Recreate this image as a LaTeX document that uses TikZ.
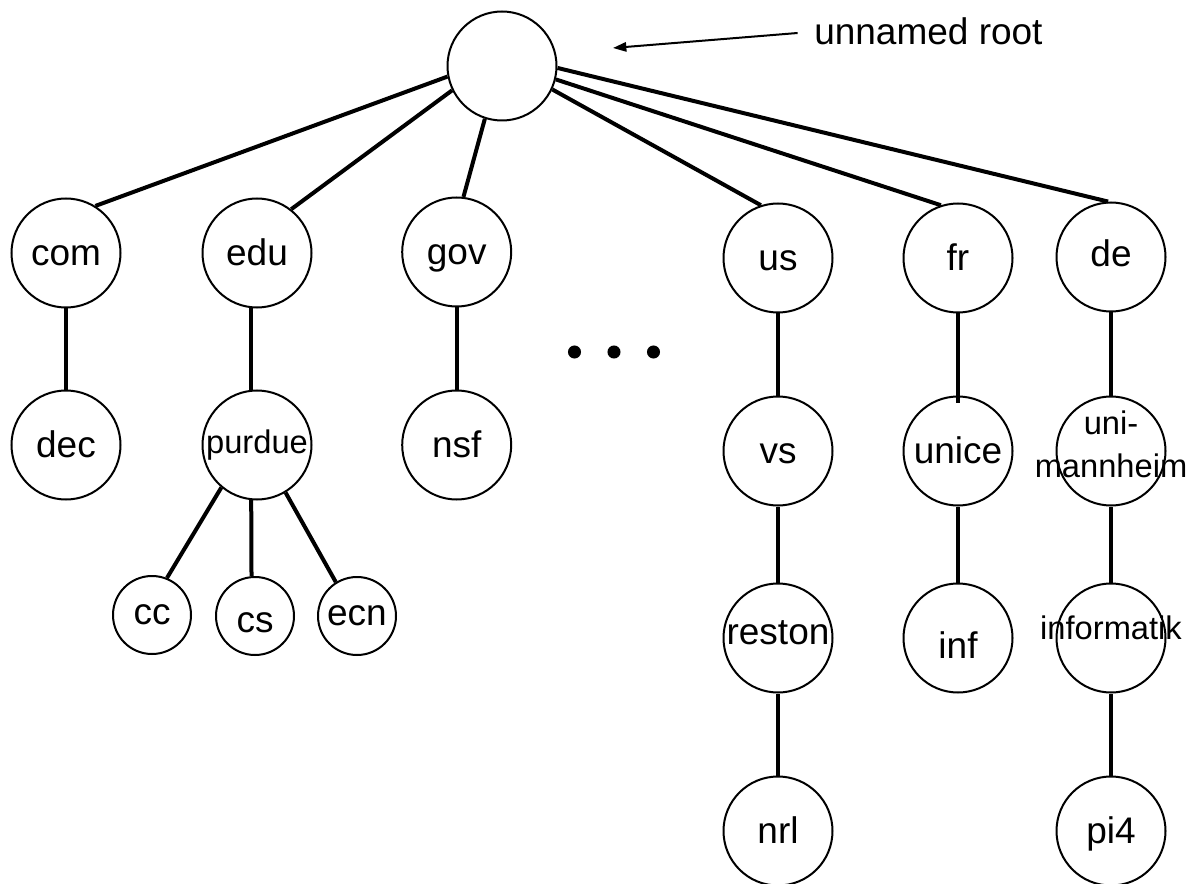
\documentclass[tikz,border=0pt]{standalone}
\usepackage{fontspec}
\setmainfont{Liberation Sans}
\usetikzlibrary{arrows.meta,calc}
\newcommand\tx[2][0pt]{\raisebox{#1}{\makebox[0pt]{#2}}}
\begin{document}
\begin{tikzpicture}[x=0.75pt,y=-0.75pt,
  dn/.style={draw,circle,line width=1.5pt,minimum size=81.75pt,inner sep=0pt,
    font=\fontsize{27.75pt}{33pt}\selectfont,text height=18.9pt,text depth=0pt},
  sm/.style={dn,minimum size=58.5pt},
  smallfont/.style={font=\fontsize{24.5pt}{32.25pt}\selectfont,text height=17.2pt},
  edge/.style={line width=3pt},
  lbl/.style={inner sep=0pt,font=\fontsize{27.75pt}{33pt}\selectfont}]
\useasboundingbox (0,0) rectangle (1196,884);

% nodes
\node[dn] (root) at (502,66) {};
\node[dn] (com) at (66,253) {\tx{com}};
\node[dn] (edu) at (257,253) {\tx{edu}};
\node[dn] (gov) at (456.7,252) {\tx{gov}};
\node[dn] (us) at (778,258) {\tx{us}};
\node[dn] (fr) at (958,258) {\tx{fr}};
\node[dn] (de) at (1111,257) {\tx[2.25pt]{de}};
\node[dn] (dec) at (66,445) {\tx{dec}};
\node[dn,smallfont] (purdue) at (257,445) {\tx[1.9pt]{purdue}};
\node[dn] (nsf) at (456.7,445) {\tx{nsf}};
\node[sm] (cc) at (152,615) {\tx[2.25pt]{cc}};
\node[sm] (cs) at (255,616) {\tx[-3pt]{cs}};
\node[sm] (ecn) at (357,616) {\tx[2.25pt]{ecn}};
\node[dn] (vs) at (778,451) {\tx{vs}};
\node[dn] (unice) at (958,451) {\tx{unice}};
\node[dn,smallfont] (mann) at (1111,451) {\tx[-11.6pt]{\begin{tabular}[b]{@{}c@{}}uni-\\mannheim\end{tabular}}};
\node[dn] (reston) at (778,638) {\tx[4.5pt]{reston}};
\node[dn] (inf) at (958,638) {\tx[-6pt]{inf}};
\node[dn,smallfont] (informatik) at (1111,638) {\tx[7.5pt]{informatik}};
\node[dn] (nrl) at (778,831) {\tx{nrl}};
\node[dn] (pi4) at (1111,831) {\tx{pi4}};

% label and arrow
\node[lbl,anchor=base west] (rootlbl) at (814,45) {unnamed root};
\coordinate (arrs) at (797.6,33);
\coordinate (arrt) at (613,48);
\draw[line width=1.5pt,-{Triangle[length=10pt,width=7pt]}] (arrs) -- (arrt);

% edges from root
\draw[edge] (root.191.5) -- (com.58);
\draw[edge] (root.206) -- (edu.52);
\draw[edge] (root.252.5) -- (gov.83.5);
\draw[edge] (root.335) -- (us.108);
\draw[edge] (root.346.6) -- (fr.108);
\draw[edge] (root.358) -- (de.93.6);

% lower edges
\draw[edge] (com.south) -- (dec.north);
\draw[edge] (edu.264) -- (purdue.96);
\draw[edge] (gov.south) -- (nsf.north);
\draw[edge] (purdue.230.5) -- (cc.68);
\draw[edge] (purdue.264) -- (cs.95);
\draw[edge] (purdue.301) -- (ecn.122.5);
\draw[edge] (us.south) -- (vs.north);
\draw[edge] (vs.south) -- (reston.north);
\draw[edge] (reston.south) -- (nrl.north);
\draw[edge] (fr.south) -- ($(unice.north)+(0,7)$);
\draw[edge] (unice.south) -- (inf.north);
\draw[edge] (de.south) -- (mann.north);
\draw[edge] (mann.south) -- (informatik.north);
\draw[edge] (informatik.south) -- (pi4.north);

% ellipsis dots
\fill (574.5,352) circle[radius=4.9pt];
\fill (614,352) circle[radius=4.9pt];
\fill (653.5,352) circle[radius=4.9pt];
\end{tikzpicture}
\end{document}
